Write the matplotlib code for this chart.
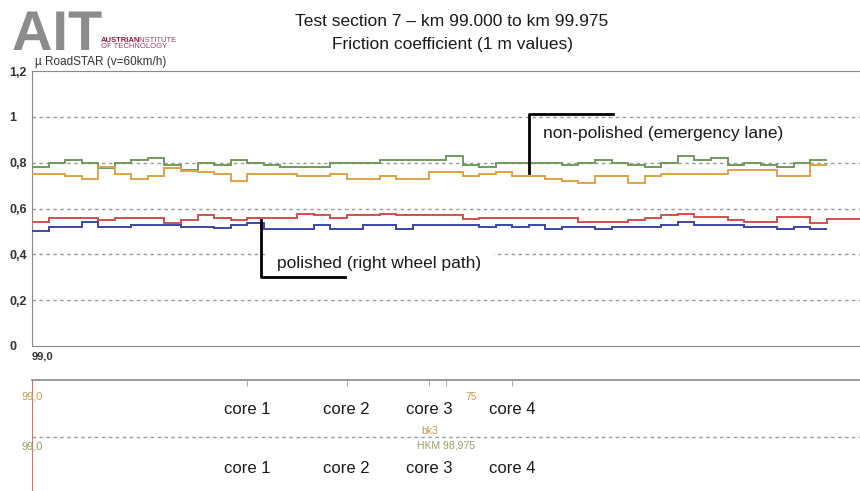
import numpy as np
import matplotlib
matplotlib.use('Agg')
import matplotlib.pyplot as plt
from matplotlib.textpath import TextPath
from matplotlib.patches import PathPatch
from matplotlib.font_manager import FontProperties
from matplotlib.transforms import Affine2D

plt.rcParams['font.family'] = ['Liberation Sans', 'DejaVu Sans']

# friction values, one per 20 m block starting at km 99.000
km_start = 99.0
block_km = 0.02
green = [0.78, 0.80, 0.81, 0.80, 0.775, 0.80, 0.81, 0.82, 0.79, 0.77,
         0.80, 0.79, 0.81, 0.80, 0.79, 0.78, 0.78, 0.78, 0.80, 0.80,
         0.80, 0.81, 0.81, 0.81, 0.81, 0.83, 0.79, 0.78, 0.80, 0.80,
         0.80, 0.80, 0.79, 0.80, 0.81, 0.80, 0.79, 0.78, 0.80, 0.83,
         0.81, 0.82, 0.79, 0.80, 0.79, 0.78, 0.80, 0.81]
orange = [0.75, 0.75, 0.74, 0.73, 0.78, 0.75, 0.73, 0.74, 0.775, 0.765,
          0.76, 0.75, 0.72, 0.75, 0.75, 0.75, 0.74, 0.74, 0.75, 0.73,
          0.73, 0.74, 0.73, 0.73, 0.76, 0.76, 0.74, 0.75, 0.76, 0.74,
          0.74, 0.73, 0.72, 0.71, 0.74, 0.74, 0.71, 0.74, 0.75, 0.75,
          0.75, 0.75, 0.77, 0.77, 0.77, 0.74, 0.74, 0.79]
red = [0.54, 0.56, 0.56, 0.56, 0.55, 0.56, 0.56, 0.56, 0.535, 0.55,
       0.57, 0.56, 0.55, 0.56, 0.56, 0.56, 0.575, 0.57, 0.56, 0.57,
       0.57, 0.575, 0.57, 0.57, 0.57, 0.57, 0.555, 0.56, 0.56, 0.56,
       0.56, 0.56, 0.56, 0.54, 0.54, 0.54, 0.55, 0.56, 0.57, 0.577,
       0.565, 0.565, 0.552, 0.54, 0.54, 0.562, 0.562, 0.538, 0.555, 0.555]
blue = [0.50, 0.52, 0.52, 0.54, 0.52, 0.52, 0.53, 0.53, 0.53, 0.52,
        0.52, 0.515, 0.53, 0.535, 0.51, 0.51, 0.51, 0.53, 0.51, 0.51,
        0.53, 0.53, 0.51, 0.53, 0.53, 0.53, 0.53, 0.52, 0.53, 0.52,
        0.53, 0.51, 0.52, 0.52, 0.51, 0.52, 0.52, 0.52, 0.53, 0.54,
        0.53, 0.53, 0.53, 0.52, 0.52, 0.51, 0.52, 0.51]

y_ticks = [0, 0.2, 0.4, 0.6, 0.8, 1.0, 1.2]
y_labels = ['0', '0,2', '0,4', '0,6', '0,8', '1', '1,2']
grid_levels = [0.2, 0.4, 0.6, 0.8, 1.0]

core_names = ['core 1', 'core 2', 'core 3', 'core 4']
core_km = [99.26, 99.38, 99.48, 99.58]
marker_km = [99.26, 99.38, 99.48, 99.50, 99.58]

W, H = 860, 491


def box(l, t, r, b):
    return [l / W, 1 - b / H, (r - l) / W, (b - t) / H]


fig = plt.figure(figsize=(W / 100, H / 100), dpi=100)

# main friction chart
ax = fig.add_axes(box(32, 71, 860, 346))
ax.set_xlim(99.0, 100.0)
ax.set_ylim(0, 1.2)
for lv in grid_levels:
    ax.axhline(lv, color='#9a9a9a', lw=1, ls=(0, (2.5, 2.5)), zorder=1)

def stairs(vals, color):
    edges = km_start + block_km * np.arange(len(vals) + 1)
    ax.stairs(vals, edges, baseline=None, color=color, lw=1.4, zorder=3)

stairs(blue, '#3b47a6')
stairs(red, '#d2504c')
stairs(green, '#73995a')
stairs(orange, '#e2a243')

for s in ['left', 'top', 'bottom']:
    ax.spines[s].set_color('#8a8a8a')
ax.spines['right'].set_visible(False)
ax.set_yticks(y_ticks, y_labels)
ax.tick_params(axis='y', length=0, pad=16.5, labelsize=9, labelcolor='#333333')
for lbl in ax.get_yticklabels():
    lbl.set_ha('left')
    lbl.set_fontweight('bold')
ax.set_xticks([99.0], ['99,0'])
ax.tick_params(axis='x', length=0, pad=4, labelsize=8, labelcolor='#333333')
for lbl in ax.get_xticklabels():
    lbl.set_fontweight('bold')
    lbl.set_ha('left')

# brackets and annotations
ax.plot([99.2766, 99.2766, 99.378], [0.548, 0.30, 0.30], color='black', lw=2, zorder=6)
ax.text(99.296, 0.361, 'polished (right wheel path)', fontsize=12.5, color='#1a1a1a',
        va='center', zorder=5,
        bbox=dict(facecolor='white', edgecolor='none', pad=9))
ax.plot([99.600, 99.600, 99.702], [0.757, 1.013, 1.013], color='black', lw=2, zorder=6)
ax.text(99.617, 0.926, 'non-polished (emergency lane)', fontsize=12.5, color='#1a1a1a',
        va='center', zorder=5)

# lower strip with core positions
ax2 = fig.add_axes(box(32, 380, 860, 491))
ax2.set_xlim(99.0, 100.0)
ax2.set_ylim(0, 1)
ax2.set_yticks([])
ax2.spines['top'].set_color('#8a8a8a')
ax2.spines['top'].set_linewidth(1.2)
ax2.spines['left'].set_color('#d87070')
ax2.spines['right'].set_visible(False)
ax2.spines['bottom'].set_visible(False)
ax2.set_xticks(marker_km)
ax2.tick_params(axis='x', top=True, bottom=False, labelbottom=False, direction='in',
                length=4, color='#b0b0b0')
ax2.axhline(0.486, color='#9a9a9a', lw=1, ls=(0, (2.5, 2.5)))
for name, k in zip(core_names, core_km):
    ax2.text(k, 0.73, name, fontsize=12, ha='center', va='center', color='#1a1a1a')
    ax2.text(k, 0.207, name, fontsize=12, ha='center', va='center', color='#1a1a1a')
ax2.text(99.0, 0.847, '99,0', fontsize=8, ha='center', va='center', color='#c99a4e', clip_on=False)
ax2.text(99.0, 0.405, '99,0', fontsize=8, ha='center', va='center', color='#93a062', clip_on=False)
ax2.text(99.531, 0.847, '75', fontsize=7.5, ha='center', va='center', color='#c99a4e')
ax2.text(99.48, 0.54, 'bk3', fontsize=7.5, ha='center', va='center', color='#c99a4e')
ax2.text(99.50, 0.414, 'HKM 98,975', fontsize=7.5, ha='center', va='center', color='#93a062')

# header
fig.text(452 / W, 1 - 22 / H, 'Test section 7 – km 99.000 to km 99.975', fontsize=12.5,
         ha='center', va='center', color='#1a1a1a')
fig.text(452 / W, 1 - 45 / H, 'Friction coefficient (1 m values)', fontsize=12.5,
         ha='center', va='center', color='#1a1a1a')
fig.text(35 / W, 1 - 62 / H, 'µ RoadSTAR (v=60km/h)', fontsize=8.5, ha='left', va='center',
         color='#333333')

# logo letters drawn as a shape, institute name as text
logo = TextPath((0, 0), 'AIT', size=56,
                prop=FontProperties(family='Liberation Sans', weight='bold'))
fig.add_artist(PathPatch(logo, transform=Affine2D().translate(12, H - 50),
                         facecolor='#8c8c8c', edgecolor='none'))
fig.text(101 / W, 1 - 40 / H, 'AUSTRIAN', fontsize=5.5, fontweight='bold', color='#8b1d3c',
         ha='left', va='center')
fig.text(137 / W, 1 - 40 / H, 'INSTITUTE', fontsize=5.5, color='#a04060',
         ha='left', va='center')
fig.text(101 / W, 1 - 46 / H, 'OF TECHNOLOGY', fontsize=5.5, color='#a04060',
         ha='left', va='center')

fig.savefig('out.png', dpi=100)
